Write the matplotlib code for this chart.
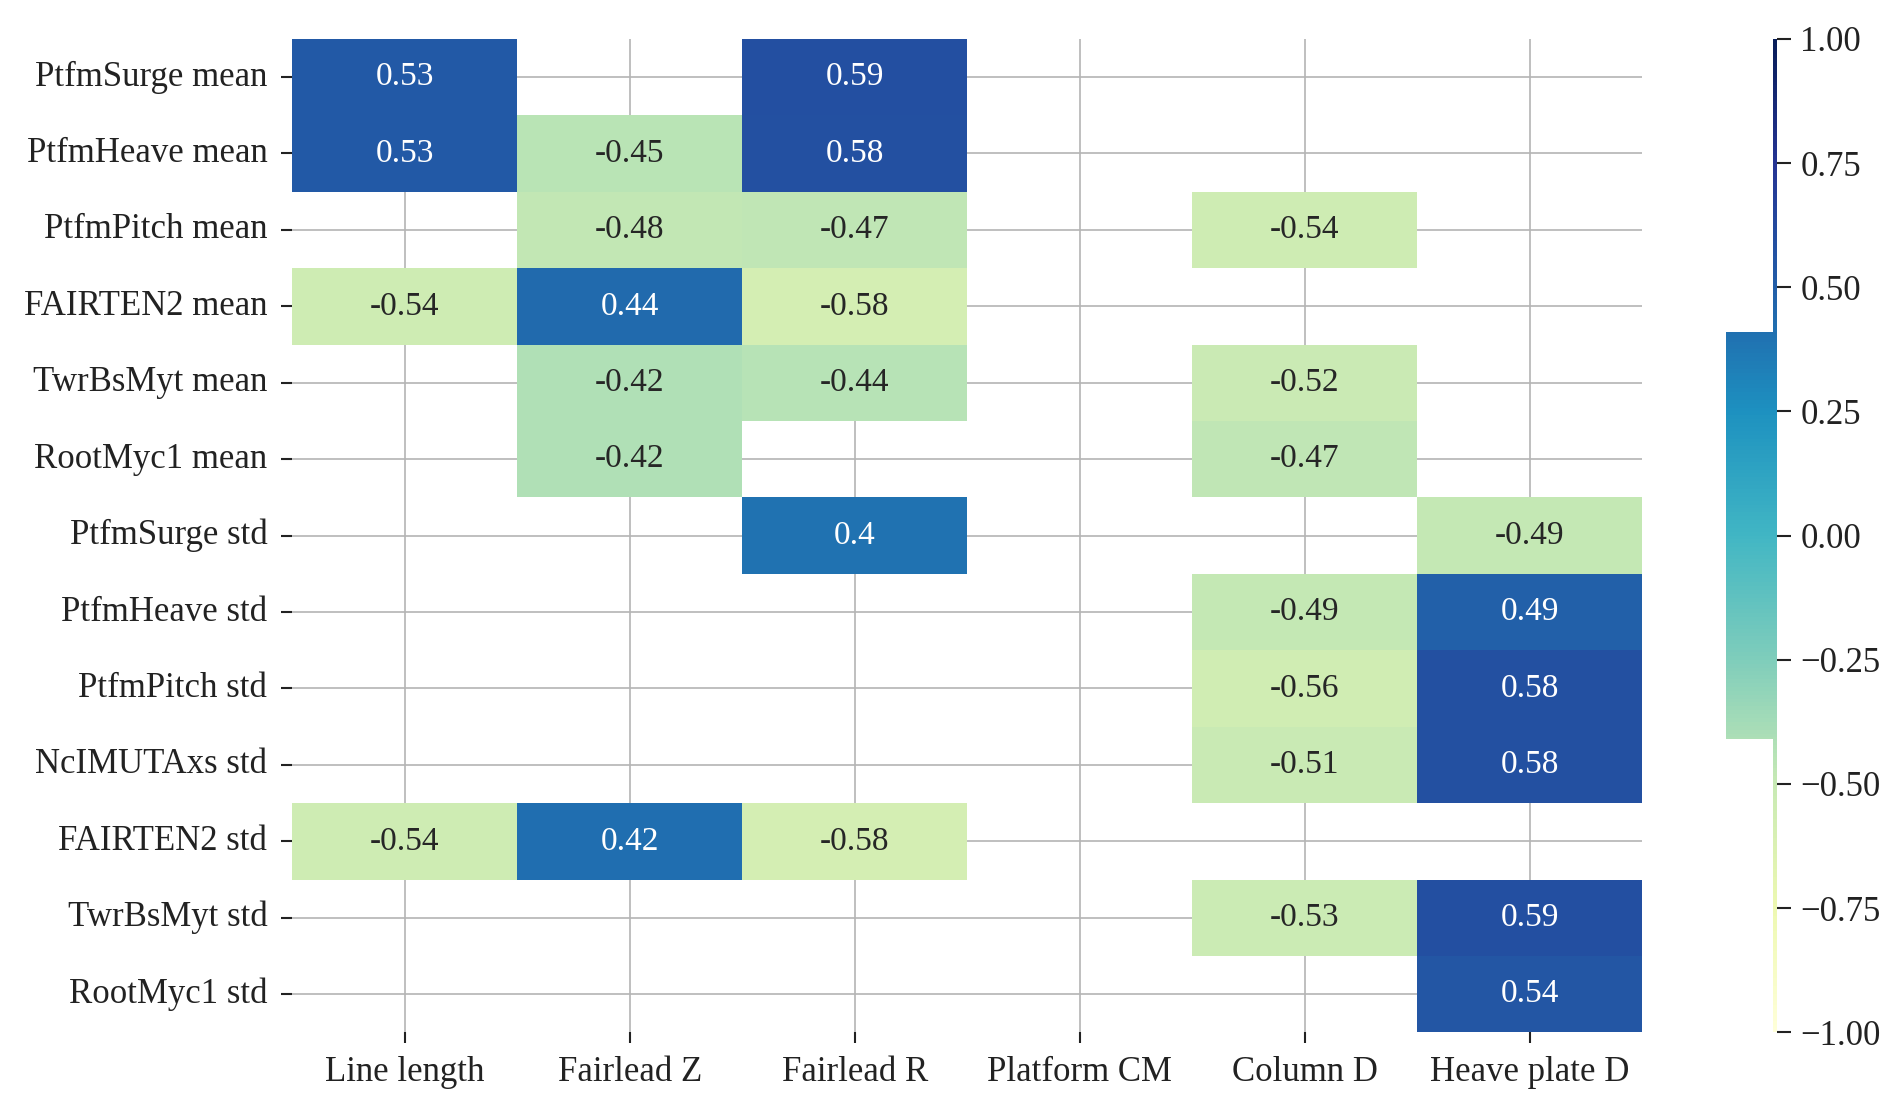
import numpy as np
import pandas as pd
import matplotlib
matplotlib.use("Agg")
import matplotlib.pyplot as plt
import seaborn as sns
from matplotlib.patches import Rectangle

rows = ["PtfmSurge mean", "PtfmHeave mean", "PtfmPitch mean", "FAIRTEN2 mean",
        "TwrBsMyt mean", "RootMyc1 mean", "PtfmSurge std", "PtfmHeave std",
        "PtfmPitch std", "NcIMUTAxs std", "FAIRTEN2 std", "TwrBsMyt std",
        "RootMyc1 std"]
cols = ["Line length", "Fairlead Z", "Fairlead R", "Platform CM", "Column D",
        "Heave plate D"]
nan = np.nan
line_length   = [0.53, 0.53, nan, -0.54, nan, nan, nan, nan, nan, nan, -0.54, nan, nan]
fairlead_z    = [nan, -0.45, -0.48, 0.44, -0.42, -0.42, nan, nan, nan, nan, 0.42, nan, nan]
fairlead_r    = [0.59, 0.58, -0.47, -0.58, -0.44, nan, 0.4, nan, nan, nan, -0.58, nan, nan]
platform_cm   = [nan] * 13
column_d      = [nan, nan, -0.54, nan, -0.52, -0.47, nan, -0.49, -0.56, -0.51, nan, -0.53, nan]
heave_plate_d = [nan, nan, nan, nan, nan, nan, -0.49, 0.49, 0.58, 0.58, nan, 0.59, 0.54]
cbar_ticks = [-1.0, -0.75, -0.5, -0.25, 0.0, 0.25, 0.5, 0.75, 1.0]

df = pd.DataFrame({c: v for c, v in zip(cols, [line_length, fairlead_z, fairlead_r,
                                              platform_cm, column_d, heave_plate_d])},
                  index=rows)

plt.rcParams['font.family'] = ['Liberation Serif', 'DejaVu Serif']
plt.rcParams['axes.unicode_minus'] = True

fig = plt.figure(figsize=(18.92, 11.10), dpi=100)
W, H = 1560.0, 915.0
ax = fig.add_axes([241 / W, 1 - 851 / H, (1354 - 241) / W, (851 - 32) / H])
cax = fig.add_axes([1423 / W, 1 - 851 / H, (1465 - 1423) / W, (851 - 32) / H])

sns.heatmap(df, ax=ax, cbar_ax=cax, cmap='YlGnBu', vmin=-1, vmax=1,
            annot=True, fmt='g', annot_kws={'fontsize': 24})
ax.set_axisbelow(True)
ax.grid(True, color='#b4b4b4', linewidth=1.2)
for s in ax.spines.values():
    s.set_visible(False)
ax.tick_params(axis='both', labelsize=25, length=8, width=1.5, colors='#222222',
               labelcolor='#222222')
ax.tick_params(axis='y', pad=10)
ax.tick_params(axis='x', pad=9)
ax.set_yticklabels(rows, rotation=0)
ax.set_xticklabels(cols, rotation=0)

cax.set_yticks(cbar_ticks)
cax.tick_params(labelsize=25, length=10, width=1.5, pad=7, colors='#222222')
tr = cax.get_yaxis_transform()
cax.add_patch(Rectangle((0, 0.41), 0.93, 1 - 0.41, transform=tr,
                        facecolor='white', edgecolor='none', zorder=5))
cax.add_patch(Rectangle((0, -1.0), 0.93, 1 - 0.41, transform=tr,
                        facecolor='white', edgecolor='none', zorder=5))

fig.savefig("out.png", dpi=100)
